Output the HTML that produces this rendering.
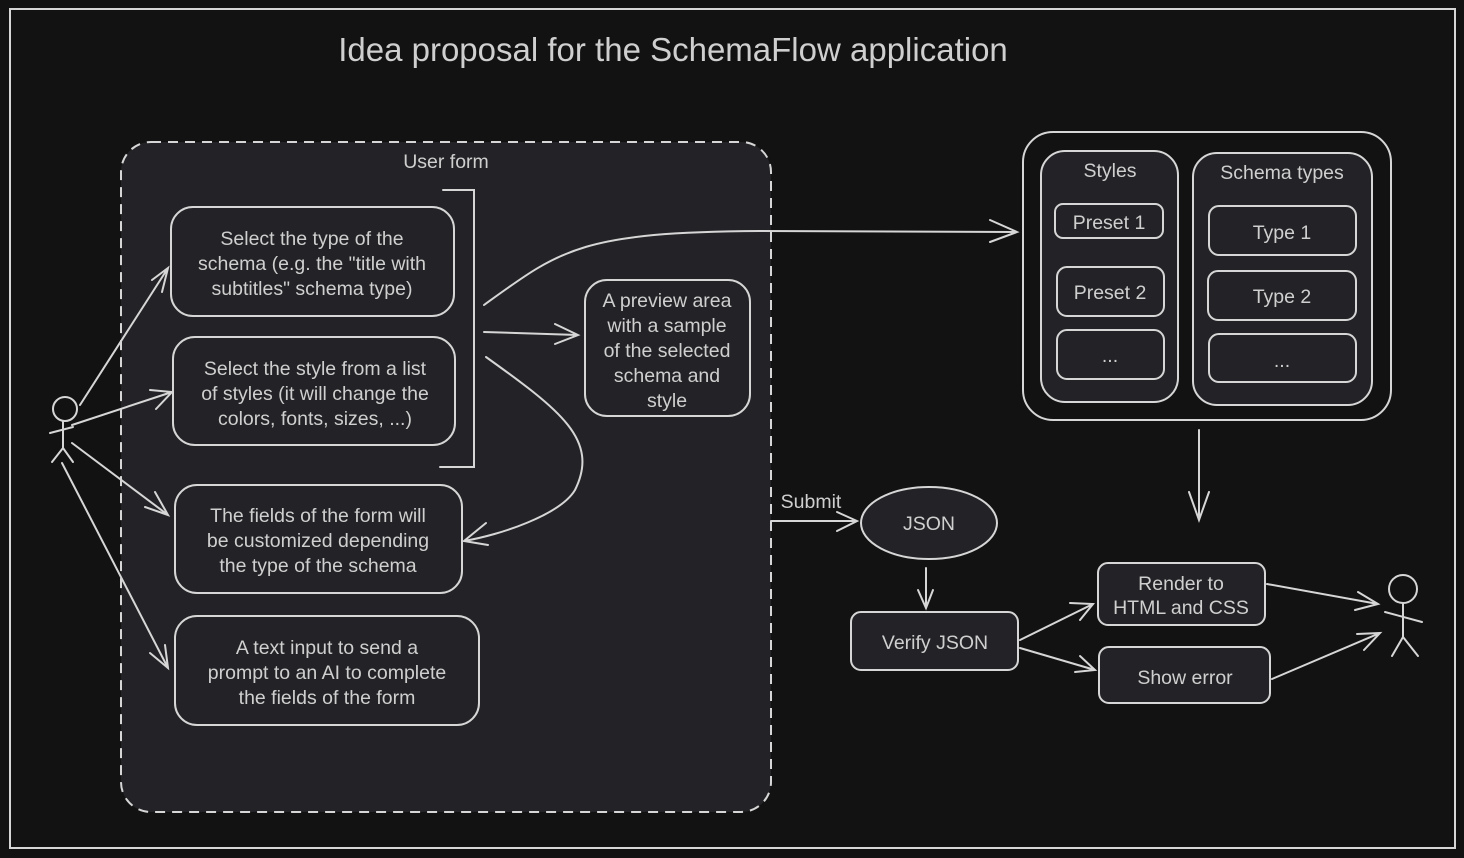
<!DOCTYPE html>
<html><head><meta charset="utf-8"><style>
html,body{margin:0;padding:0;background:#121212;}
svg{display:block}
text{font-family:"Liberation Sans",sans-serif;fill:#cfcfcf;font-size:19.5px;text-anchor:middle}
.n{fill:#232327;stroke:#d6d6d6;stroke-width:2}
.l{fill:none;stroke:#d6d6d6;stroke-width:2;stroke-linecap:round}
</style></head><body>
<svg width="1464" height="858" viewBox="0 0 1464 858">
<rect x="0" y="0" width="1464" height="858" fill="#121212"/>
<rect x="10" y="9" width="1445" height="839" fill="none" stroke="#d6d6d6" stroke-width="2"/>
<text x="673" y="61" style="font-size:33px">Idea proposal for the SchemaFlow application</text>

<rect x="121" y="142" width="650" height="670" rx="30" fill="#232327" stroke="#d6d6d6" stroke-width="2" stroke-dasharray="10,7"/>
<text x="446" y="168">User form</text>

<rect class="n" x="171" y="207" width="283" height="109" rx="22"/>
<text x="312" y="245">Select the type of the</text><text x="312" y="270">schema (e.g. the "title with</text><text x="312" y="295">subtitles" schema type)</text>
<rect class="n" x="173" y="337" width="282" height="108" rx="22"/>
<text x="315" y="375">Select the style from a list</text><text x="315" y="400">of styles (it will change the</text><text x="315" y="425">colors, fonts, sizes, ...)</text>
<rect class="n" x="175" y="485" width="287" height="108" rx="22"/>
<text x="318" y="522">The fields of the form will</text><text x="318" y="547">be customized depending</text><text x="318" y="572">the type of the schema</text>
<rect class="n" x="175" y="616" width="304" height="109" rx="22"/>
<text x="327" y="654">A text input to send a</text><text x="327" y="679">prompt to an AI to complete</text><text x="327" y="704">the fields of the form</text>
<rect class="n" x="585" y="280" width="165" height="136" rx="22"/>
<text x="667" y="307">A preview area</text><text x="667" y="332">with a sample</text><text x="667" y="357">of the selected</text><text x="667" y="382">schema and</text><text x="667" y="407">style</text>

<path class="l" d="M443 190 H474 V467 H440"/>

<circle cx="65" cy="409" r="12" class="l"/>
<path class="l" d="M63 421 V448 M50 433 L73 427 M63 448 L52 462 M63 448 L73 462"/>
<path class="l" d="M80 405 L168 268 M152 280 L168 268 L162 292"/>
<path class="l" d="M72 425 L172 392 M150 390 L172 392 L156 409"/>
<path class="l" d="M72 443 L168 515 M155 492 L168 515 L145 507"/>
<path class="l" d="M62 463 L168 668 M165 645 L168 668 L150 653"/>

<path class="l" d="M484 305 C560 250 580 232 760 231 L1017 232 M990 220 L1017 232 L990 242"/>
<path class="l" d="M484 332 L578 335 M555 324 L578 335 L555 344"/>
<path class="l" d="M486 357 C560 410 600 440 575 490 C560 515 500 535 464 541 M486 523 L464 541 L488 545"/>

<text x="811" y="508">Submit</text>
<path class="l" d="M771 521 L857 521 M837 512 L857 521 L837 531"/>
<ellipse cx="929" cy="523" rx="68" ry="36" class="n"/>
<text x="929" y="530">JSON</text>
<path class="l" d="M926 568 V608 M918 590 L926 608 L933 590"/>
<rect class="n" x="851" y="612" width="167" height="58" rx="10"/>
<text x="935" y="649">Verify JSON</text>
<path class="l" d="M1020 640 L1093 604 M1070 603 L1093 604 L1080 620"/>
<path class="l" d="M1020 648 L1095 670 M1080 656 L1095 670 L1075 672"/>
<rect class="n" x="1098" y="563" width="167" height="62" rx="10"/>
<text x="1181" y="590">Render to</text><text x="1181" y="614">HTML and CSS</text>
<rect class="n" x="1099" y="647" width="171" height="56" rx="10"/>
<text x="1185" y="684">Show error</text>
<path class="l" d="M1267 584 L1378 604 M1358 592 L1378 604 L1355 610"/>
<path class="l" d="M1272 679 L1380 633 M1357 634 L1380 633 L1364 650"/>
<circle cx="1403" cy="589" r="14" class="l"/>
<path class="l" d="M1403 603 V637 M1385 612 L1422 622 M1403 637 L1392 656 M1403 637 L1418 656"/>

<rect x="1023" y="132" width="368" height="288" rx="30" fill="#121212" stroke="#d6d6d6" stroke-width="2"/>
<rect class="n" x="1041" y="151" width="137" height="251" rx="24"/>
<text x="1110" y="177">Styles</text>
<rect class="n" x="1055" y="204" width="108" height="34" rx="8"/><text x="1109" y="229">Preset 1</text>
<rect class="n" x="1057" y="267" width="107" height="49" rx="10"/><text x="1110" y="299">Preset 2</text>
<rect class="n" x="1057" y="330" width="107" height="49" rx="10"/><text x="1110" y="362">...</text>
<rect class="n" x="1193" y="153" width="179" height="252" rx="24"/>
<text x="1282" y="179">Schema types</text>
<rect class="n" x="1209" y="206" width="147" height="49" rx="10"/><text x="1282" y="239">Type 1</text>
<rect class="n" x="1208" y="271" width="148" height="49" rx="10"/><text x="1282" y="303">Type 2</text>
<rect class="n" x="1209" y="334" width="147" height="48" rx="10"/><text x="1282" y="367">...</text>
<path class="l" d="M1199 430 V520 M1189 492 L1199 520 L1209 492"/>
</svg>
</body></html>
